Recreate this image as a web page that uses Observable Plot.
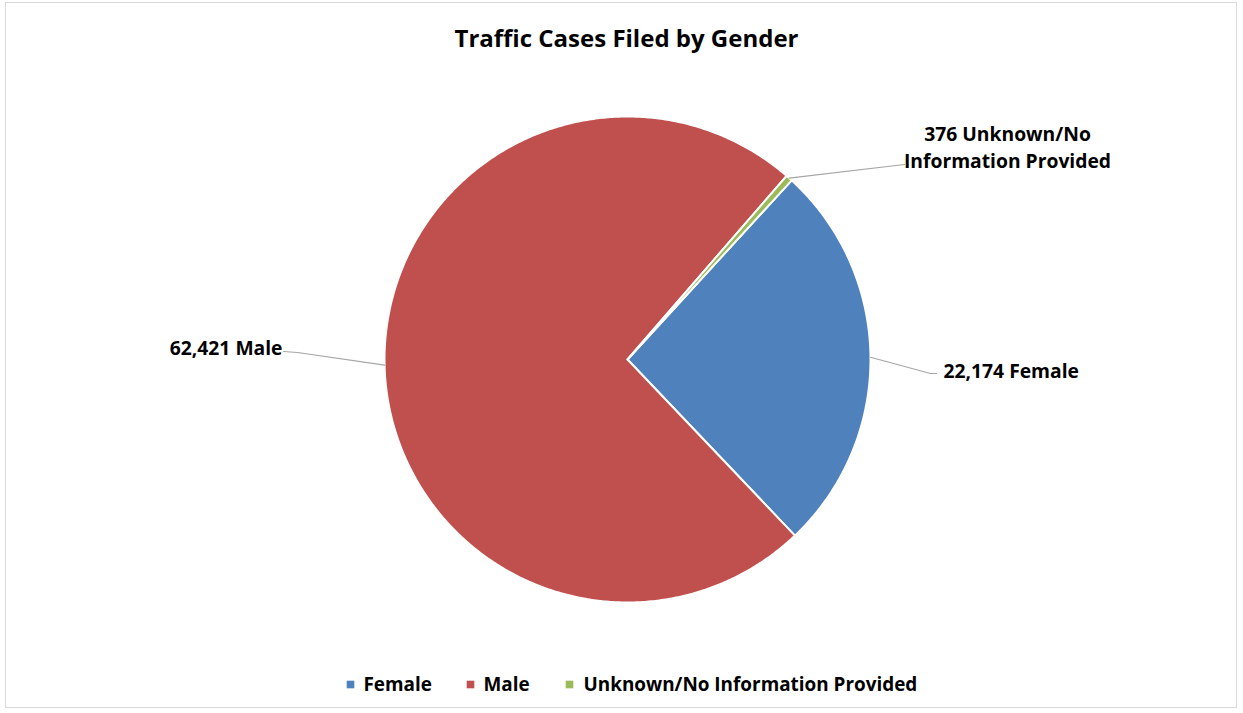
<!DOCTYPE html>
<html><head><meta charset="utf-8">
<script src="https://cdn.jsdelivr.net/npm/d3@7"></script>
<script src="https://cdn.jsdelivr.net/npm/@observablehq/plot@0.6"></script>
<style>
html,body{margin:0;padding:0;background:#fff;}
#wrap{position:relative;width:1243px;height:713px;overflow:hidden;}
#frame{position:absolute;left:5px;top:2px;width:1232px;height:706px;border:1px solid #d9d9d9;box-sizing:border-box;pointer-events:none;}
#wrap svg{position:absolute;left:0;top:0;}
</style></head><body>
<div id="wrap"><div id="frame"></div></div>
<script>
// ---- data ----
const categories = ["Female", "Male", "Unknown/No Information Provided"];
const values = [22174, 62421, 376];
const sliceLabels = ["22,174 Female", "62,421 Male", "376 Unknown/No\nInformation Provided"];
const colors = ["#4F81BD", "#C0504D", "#9BBB59"];
const title = "Traffic Cases Filed by Gender";

// ---- layout (pixels) ----
const W = 1243, H = 713, cx = 627, cy = 359, R = 243;
const startDeg = 42.5;
const FONT = "'Open Sans', 'Noto Sans', sans-serif";
const LFS = 19.3;   // label font size
const ux = px => (px - cx) / R;           // pixel -> unit coords
const uy = py => (cy - py) / R;

const rows = categories.map((c, i) => ({name: c, value: values[i], label: sliceLabels[i]}));
const a0 = startDeg * Math.PI / 180;
const arcs = d3.pie().value(d => d.value).sort(null).startAngle(a0).endAngle(a0 + 2 * Math.PI)(rows);

const slicePts = [];
for (const a of arcs) {
  const n = Math.max(2, Math.ceil((a.endAngle - a.startAngle) / (Math.PI / 360)));
  slicePts.push({name: a.data.name, x: 0, y: 0});
  for (let k = 0; k <= n; k++) {
    const t = a.startAngle + (a.endAngle - a.startAngle) * k / n;
    slicePts.push({name: a.data.name, x: Math.sin(t), y: Math.cos(t)});
  }
}

// label placement (layout) per slice: text anchor point, elbow, end
const labelLayout = {
  "Female": {tx: 943, ty: 368.8, anchor: "start", elbow: [930, 373], end: [936, 373]},
  "Male": {tx: 282, ty: 345.8, anchor: "end", elbow: [297, 352], end: [283, 351]},
  "Unknown/No Information Provided": {tx: 1007, ty: 144.9, anchor: "middle", elbow: [904, 164], end: [904, 164]}
};

const leaderPts = [];
const labelRows = [];
for (const a of arcs) {
  const m = (a.startAngle + a.endAngle) / 2;
  const L = labelLayout[a.data.name];
  leaderPts.push({name: a.data.name, x: Math.sin(m), y: Math.cos(m)});
  leaderPts.push({name: a.data.name, x: ux(L.elbow[0]), y: uy(L.elbow[1])});
  leaderPts.push({name: a.data.name, x: ux(L.end[0]), y: uy(L.end[1])});
  labelRows.push({text: a.data.label, x: ux(L.tx), y: uy(L.ty), anchor: L.anchor});
}

// legend
const legendSq = [350, 470, 569];
const legendTx = [363, 483, 583];
const legendY = 684;
const legendRows = categories.map((c, i) => ({name: c, sx: ux(legendSq[i]), tx: ux(legendTx[i]), y: uy(legendY)}));

const labelMark = anchor => Plot.text(labelRows.filter(d => d.anchor === anchor), {
  x: "x", y: "y", text: "text", textAnchor: anchor, fontSize: LFS, fontWeight: "bold", fill: "#000", lineHeight: 1.4
});

const plot = Plot.plot({
  width: W, height: H,
  margin: 0,
  x: {domain: [ux(0), ux(W)], axis: null},
  y: {domain: [uy(H), uy(0)], axis: null},
  color: {domain: categories, range: colors},
  style: {fontFamily: FONT, background: "transparent"},
  marks: [
    Plot.line(slicePts, {x: "x", y: "y", z: "name", fill: "name", stroke: "white", strokeWidth: 2, curve: "linear-closed", strokeLinejoin: "round"}),
    Plot.line(leaderPts, {x: "x", y: "y", z: "name", stroke: "#a6a6a6", strokeWidth: 1.2}),
    labelMark("start"),
    labelMark("end"),
    labelMark("middle"),
    Plot.text([title], {x: ux(626), y: uy(39.3), text: d => d, fontSize: 24, fontWeight: "bold", fill: "#000"}),
    Plot.dot(legendRows, {x: "sx", y: "y", fill: "name", symbol: "square", r: 4.3, stroke: null}),
    Plot.text(legendRows, {x: "tx", y: "y", text: "name", textAnchor: "start", fontSize: 18.9, fontWeight: "bold", fill: "#000"})
  ]
});
document.getElementById("wrap").appendChild(plot);
</script>
</body></html>
